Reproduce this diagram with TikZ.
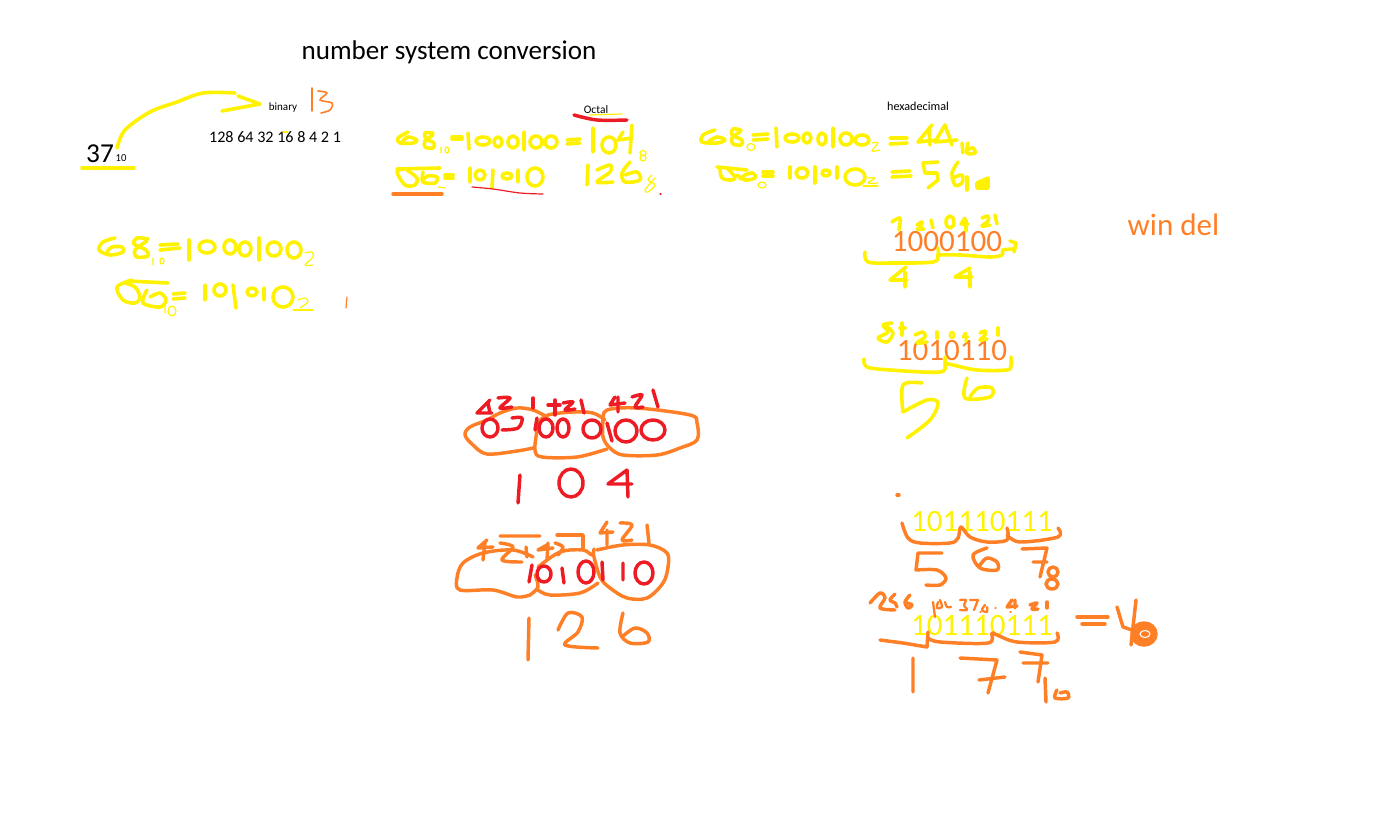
\documentclass[tikz,border=0pt]{standalone}
\usepackage{fontspec}
\setmainfont{Carlito}
\definecolor{penyellow}{RGB}{255,242,0}
\definecolor{penorange}{RGB}{255,127,39}
\definecolor{penred}{RGB}{237,28,36}
\tikzset{
  yellowpen/.style={penyellow,line width=2.7pt,line cap=round,line join=round},
  yellowthin/.style={penyellow,line width=0.9pt,line cap=round,line join=round},
  orangepen/.style={penorange,line width=2.6pt,line cap=round,line join=round},
  orangethin/.style={penorange,line width=1.7pt,line cap=round,line join=round},
  redpen/.style={penred,line width=2.6pt,line cap=round,line join=round},
  redthin/.style={penred,line width=0.9pt,line cap=round,line join=round},
  typed/.style={inner sep=0pt,text=black},
  bigdigits/.style={inner sep=0pt,font=\fontsize{23.3pt}{24pt}\selectfont},
}
\newcommand{\hand}[2]{\draw[#1] plot[smooth,tension=0.55] coordinates {#2};}
\begin{document}
\begin{tikzpicture}[x=0.75pt,y=0.75pt,yscale=-1,xscale=1]
\useasboundingbox (0,0) rectangle (1382,816);
% Text Node
\node[typed,font=\fontsize{20.3pt}{22pt}\selectfont] (title) at (449,52) {number system conversion};
\node[typed,font=\fontsize{20.5pt}{22pt}\selectfont] (base) at (100,154) {37};
\node[typed,font=\fontsize{8pt}{9pt}\selectfont] (baseten) at (121,158) {10};
\node[typed,font=\fontsize{8.3pt}{9pt}\selectfont] (binary) at (283,108) {binary};
\node[typed,font=\fontsize{12.1pt}{13pt}\selectfont] (weights) at (275,137) {128 64 32 16 8 4 2 1};
\node[typed,font=\fontsize{8.6pt}{9pt}\selectfont] (octal) at (596,110) {Octal};
\node[typed,font=\fontsize{9.1pt}{10pt}\selectfont] (hexa) at (918,106) {hexadecimal};
\node[bigdigits,text=penorange] (windel) at (1173.5,225) {win del};
\node[bigdigits,text=penorange] (sixtyeight) at (947,242) {1000100};
\node[bigdigits,text=penorange] (eightysix) at (952,351) {1010110};
\node[bigdigits,text=penyellow] (nineoct) at (982,522) {101110111};
\node[bigdigits,text=penyellow] (ninehex) at (982,626) {101110111};
%Arrow to binary
\hand{yellowpen}{(117,148) (125,130) (150,112) (177,102) (203,93) (235,93)}
\draw[yellowpen] (238,96) -- (260,104) -- (222,111);
\draw[yellowpen] (82,168) -- (134,168);
\draw[yellowthin] (283,132) -- (288,132);
\draw[orangethin,line width=1.2pt] (312,88) -- (312,111);
\hand{orangethin,line width=1.2pt}{(318,91) (327,93) (320,100) (332,103) (330,110) (321,113)}
%Left block, first line
\hand{yellowpen}{(115,238) (103,242) (99,250) (110,255) (123,252) (122,247) (112,247) (107,252)}
\hand{yellowpen}{(148,239) (137,238) (134,244) (146,250) (148,256) (137,257) (135,250) (147,241)}
\draw[yellowpen] (160,245) -- (178,244) (160,250) -- (180,248);
\draw[yellowpen] (189,240) -- (189,260) (259,238) -- (259,260);
\draw[yellowpen] (207,247) ellipse [x radius=8,y radius=6] (230,247) ellipse [x radius=6,y radius=7] (245,249) ellipse [x radius=6,y radius=7] (274,249) ellipse [x radius=7,y radius=7] (294,250) ellipse [x radius=7,y radius=8];
\draw[yellowthin] (153,258) -- (153,265) (162,261) ellipse [x radius=2,y radius=3];
\hand{yellowthin}{(305,253) (312,252) (313,257) (305,265) (313,265)}
%Left block, second line
\draw[yellowpen] (128,281) -- (168,283);
\hand{yellowpen}{(132,280) (117,287) (123,300) (135,303) (140,297) (135,287) (125,283)}
\hand{yellowpen}{(147,290) (143,303) (160,307) (166,300) (160,293) (150,297)}
\draw[yellowthin] (165,305) -- (165,313) (172,311) ellipse [x radius=4,y radius=5];
\draw[yellowpen] (173,294) -- (185,293) (173,299) -- (185,298);
\draw[yellowpen] (205,285) -- (205,300) (233,285) -- (236,308) (264,288) -- (264,300);
\draw[yellowpen] (220,290) ellipse [x radius=6,y radius=6] (252,292) ellipse [x radius=5,y radius=4] (283,297) ellipse [x radius=10,y radius=10];
\hand{yellowthin}{(298,300) (305,298) (308,302) (300,308)}
\draw[yellowthin] (293,310) -- (313,310);
\draw[orangethin,line width=0.9pt] (347,297) -- (346,308);
%Octal heading
\draw[yellowthin] (590,115) -- (622,114);
\hand{redpen}{(574,115) (597,120) (627,120)}
%Octal block, first line
\hand{yellowpen}{(408,132) (398,138) (400,143) (413,143) (417,140) (408,137) (402,142)}
\hand{yellowpen}{(433,133) (425,133) (426,139) (434,143) (433,148) (425,147) (425,141) (433,135)}
\draw[yellowthin] (441,147) -- (441,153) (447,150) ellipse [x radius=2,y radius=3];
\draw[yellowpen] (452,137) -- (462,137) (452,139) -- (462,139);
\draw[yellowpen] (468,133) -- (469,149) (524,132) -- (524,150) (593,128) -- (593,152);
\draw[yellowpen] (483,141) ellipse [x radius=7,y radius=4] (498,142) ellipse [x radius=4,y radius=5] (513,142) ellipse [x radius=5,y radius=6] (536,142) ellipse [x radius=6,y radius=6] (551,142) ellipse [x radius=6,y radius=6] (609,145) ellipse [x radius=7,y radius=8];
\draw[yellowpen] (567,140) -- (580,139) (567,144) -- (580,143);
\draw[yellowpen] (623,132) -- (618,140) -- (632,138) (632,125) -- (630,153);
\draw[yellowthin] (643,153) ellipse [x radius=3,y radius=2.5] (643,158) ellipse [x radius=3,y radius=3];
%Octal block, second line
\draw[yellowpen] (397,169) -- (440,168);
\hand{yellowpen}{(403,169) (397,172) (405,185) (415,185) (417,178) (407,170)}
\hand{yellowpen}{(423,172) (423,182) (435,183) (437,177) (428,176) (423,180)}
\draw[yellowthin] (438,187) -- (445,188);
\draw[yellowpen] (445,175) -- (453,175) (445,178) -- (453,178);
\draw[yellowpen] (470,168) -- (470,182) (493,170) -- (492,188) (518,170) -- (518,182);
\draw[yellowpen] (480,175) ellipse [x radius=5,y radius=5] (507,176) ellipse [x radius=5,y radius=3] (535,177) ellipse [x radius=8,y radius=9];
\draw[orangepen] (393,194) -- (442,194);
\hand{redthin}{(472,187) (493,189) (520,193) (543,194)}
\draw[yellowpen] (588,165) -- (587,185);
\hand{yellowpen}{(597,170) (610,165) (610,172) (597,182) (613,182)}
\hand{yellowpen}{(630,162) (622,173) (625,182) (640,180) (637,172) (625,175)}
\hand{yellowthin}{(652,175) (648,180) (655,185) (648,192) (645,190) (655,178)}
\draw[redthin] (660,194) -- (661,194);
%Hexadecimal block, first line
\hand{yellowpen}{(715,130) (703,135) (702,142) (717,143) (725,140) (717,137) (708,142)}
\hand{yellowpen}{(741,130) (733,129) (732,135) (742,140) (741,145) (733,144) (732,138) (741,131)}
\draw[yellowthin] (751,147) ellipse [x radius=4,y radius=3.5];
\draw[yellowpen] (753,135) -- (768,134) (753,140) -- (768,139);
\draw[yellowpen] (776,128) -- (777,147) (833,128) -- (833,147);
\draw[yellowpen] (792,138) ellipse [x radius=7,y radius=4] (807,138) ellipse [x radius=4,y radius=5] (822,139) ellipse [x radius=4,y radius=6] (846,139) ellipse [x radius=6,y radius=6] (862,140) ellipse [x radius=7,y radius=5];
\hand{yellowthin}{(872,143) (878,143) (872,151) (880,150)}
\draw[yellowpen] (890,138) -- (907,138) (890,144) -- (907,143);
\draw[yellowpen] (932,125) -- (918,142) -- (937,140) (929,130) -- (930,145);
\draw[yellowpen] (945,125) -- (935,142) -- (957,140) (945,125) -- (952,145);
\draw[yellowpen] (962,143) -- (963,153);
\hand{yellowpen}{(968,143) (967,153) (975,153) (973,148) (967,150)}
%Hexadecimal block, second line
\draw[yellowpen] (717,167) -- (747,170);
\hand{yellowpen}{(720,168) (722,178) (732,180) (735,177) (727,168)}
\hand{yellowpen}{(737,175) (745,180) (755,178) (753,173) (745,175) (740,179)}
\draw[yellowthin] (762,185) ellipse [x radius=4,y radius=3];
\draw[yellowpen] (763,172) -- (773,172) (763,176) -- (773,176);
\draw[yellowpen] (790,167) -- (790,178) (815,167) -- (815,183) (837,167) -- (837,178);
\draw[yellowpen] (802,173) ellipse [x radius=6,y radius=5] (826,173) ellipse [x radius=4,y radius=3] (855,177) ellipse [x radius=10,y radius=8];
\draw[yellowthin] (863,186) -- (878,186);
\hand{yellowthin}{(868,178) (875,178) (868,183) (878,183)}
\draw[yellowpen] (892,172) -- (910,171) (892,177) -- (911,176);
\draw[yellowpen] (938,162) -- (923,163) -- (925,173) -- (937,173) -- (938,180) -- (928,188);
\hand{yellowpen}{(958,162) (952,173) (955,185) (962,183) (962,175) (953,178)}
\draw[yellowpen] (967,177) -- (967,190);
\draw[yellowpen,fill=penyellow] (977,183) -- (988,178) -- (988,188) -- (977,188) -- cycle;
%Grouping of 1000100
\hand{yellowpen}{(892,222) (900,218) (899,230)}
\hand{yellowpen}{(917,225) (922,222) (920,228) (917,229) (924,229)}
\draw[yellowpen] (931,220) -- (933,228) (965,218) -- (961,224) -- (968,224) (966,220) -- (966,231) (995,215) -- (997,224);
\draw[yellowpen] (950,222) ellipse [x radius=4,y radius=6];
\hand{yellowpen}{(982,218) (988,216) (988,221) (982,226) (990,225)}
\hand{yellowpen}{(865,252) (868,262) (893,263) (933,262) (938,255) (938,248)}
\hand{yellowpen}{(938,255) (960,255) (990,257) (1002,255) (1003,250) (1015,249)}
\draw[yellowpen] (1010,241) -- (1016,243) -- (1014,252);
\draw[yellowpen] (906,267) -- (890,280) -- (907,280) (905,272) -- (905,287);
\draw[yellowpen] (970,268) -- (955,277) -- (972,277) (970,272) -- (970,287);
%Grouping of 1010110
\hand{yellowpen}{(892,323) (883,325) (888,332) (878,338) (887,342) (893,333) (885,325)}
\draw[yellowpen] (900,328) -- (905,328) (902,323) -- (902,335);
\hand{yellowpen}{(915,335) (923,332) (925,337) (917,343) (927,342)}
\draw[yellowpen] (937,332) -- (937,338) (998,328) -- (998,335);
\draw[yellowpen,line width=2pt] (952,335) ellipse [x radius=2,y radius=3];
\draw[yellowpen,line width=2pt] (965,333) -- (963,337) -- (968,337) (966,333) -- (966,342);
\hand{yellowpen}{(980,333) (985,331) (985,335) (980,340) (987,339)}
\hand{yellowpen}{(864,359) (867,367) (890,370) (940,372) (945,363) (945,357)}
\hand{yellowpen}{(945,363) (953,365) (977,370) (1007,370) (1011,365) (1011,357)}
\hand{yellowpen}{(922,383) (903,385) (903,412)}
\hand{yellowpen}{(903,412) (927,400) (938,403) (930,420) (907,438)}
\hand{yellowpen}{(967,378) (965,398) (990,397) (992,388) (978,388) (970,397)}
%Red octal groups
\hand{orangepen}{(533,448) (517,451) (487,454) (473,445) (465,435) (470,427) (487,420) (500,413) (517,408) (533,410) (547,417)}
\hand{orangepen}{(607,449) (577,457) (542,457) (535,450) (537,430) (538,423) (548,415) (573,412) (593,413) (605,420)}
\hand{orangepen}{(603,420) (607,410) (637,408) (690,415) (697,423) (697,440) (680,448) (657,455) (623,455) (610,448) (603,437) (603,420)}
\draw[redpen] (490,428) ellipse [x radius=8,y radius=9] (546,428) ellipse [x radius=7,y radius=9] (563,428) ellipse [x radius=6,y radius=9] (592,429) ellipse [x radius=9,y radius=9] (626,431) ellipse [x radius=11,y radius=11] (653,430) ellipse [x radius=12,y radius=10];
\hand{redpen}{(502,430) (518,428) (522,418) (512,418)}
\draw[redpen] (537,418) -- (535,430) (607,423) -- (612,441);
\draw[redpen] (490,400) -- (477,413) -- (492,413) (488,403) -- (490,413);
\hand{redpen}{(498,398) (510,398) (500,408) (512,407)}
\draw[redpen] (533,398) -- (533,408) (548,405) -- (560,405) (555,400) -- (555,415);
\hand{redpen}{(563,403) (573,402) (565,410) (575,409)}
\draw[redpen] (581,400) -- (584,413) (615,397) -- (610,405) -- (625,403) (618,397) -- (618,412);
\hand{redpen}{(632,397) (642,395) (635,407) (643,407)}
\draw[redpen] (653,390) -- (658,407);
\draw[redpen] (520,475) -- (518,503) (571,483) ellipse [x radius=12,y radius=14];
\draw[redpen] (627,470) -- (608,484) -- (632,484) (627,470) -- (628,497);
%Orange octal groups
\hand{orangepen}{(530,595) (517,597) (493,590) (460,590) (457,578) (463,563) (483,553) (513,550) (533,557)}
\hand{orangepen}{(530,595) (538,587) (535,575)}
\hand{orangepen}{(538,590) (550,595) (580,593) (598,583)}
\hand{orangepen}{(538,567) (560,552) (583,550) (592,555) (594,549)}
\hand{orangepen}{(597,550) (623,545) (650,545) (667,553) (668,567) (663,583) (647,598) (627,598) (610,588) (600,577) (593,553)}
\draw[redpen] (532,565) -- (529,582) (562,568) -- (564,583) (602,562) -- (603,580) (623,563) -- (623,580);
\draw[redpen] (544,574) ellipse [x radius=7,y radius=8] (586,572) ellipse [x radius=8,y radius=11] (644,573) ellipse [x radius=9,y radius=11];
\draw[orangepen] (487,540) -- (478,548) -- (493,547) (485,542) -- (483,560) (500,536) -- (540,536);
\hand{orangepen}{(500,543) (513,547) (502,560) (522,562)}
\draw[orangepen] (526,547) -- (527,557) (547,545) -- (538,550) -- (553,548) (548,543) -- (547,560);
\hand{orangepen}{(555,543) (563,547) (558,555)}
\draw[orangepen] (557,535) -- (583,535) -- (583,548);
\draw[orangepen] (607,522) -- (600,533) -- (613,532) (607,530) -- (607,545);
\hand{orangepen}{(620,523) (632,525) (622,540) (632,540)}
\draw[orangepen] (647,525) -- (649,543) (529,618) -- (528,660);
\hand{orangepen}{(558,630) (568,613) (582,617) (578,632) (565,645) (598,648)}
\hand{orangepen}{(623,613) (620,633) (630,643) (648,642) (647,633) (635,628) (622,637)}
%Grouping of 101110111 in threes
\draw[orangepen] (897,495) -- (899,495);
\hand{orangepen}{(902,523) (908,538) (920,543) (950,543) (958,538) (961,527) (970,537) (987,542) (1007,540) (1007,528)}
\hand{orangepen}{(1007,535) (1020,542) (1058,537) (1058,528)}
\draw[orangepen] (942,553) -- (918,553) -- (916,570);
\hand{orangepen}{(916,570) (937,570) (946,578) (940,585) (926,585)}
\hand{orangepen}{(987,548) (973,555) (980,568) (997,570) (997,562) (987,558) (980,565)}
\draw[orangepen] (1022,549) -- (1047,548) -- (1040,577) (1033,562) -- (1047,562);
\draw[orangepen] (1053,572) ellipse [x radius=5,y radius=5] (1052,584) ellipse [x radius=6,y radius=5];
%Grouping of 101110111 in fours
\hand{orangepen}{(870,603) (880,593) (885,598) (880,608) (895,610)}
\hand{orangepen}{(895,594) (890,600) (895,603) (897,607)}
\hand{orangepen}{(910,595) (905,602) (908,608) (912,605) (907,603)}
\draw[orangethin] (933,602) -- (935,617);
\hand{orangethin}{(938,602) (937,608) (942,607) (940,600)}
\hand{orangethin}{(945,602) (947,607) (951,607)}
\hand{orangethin}{(960,600) (966,600) (964,605) (967,610) (960,610)}
\draw[orangethin] (970,600) -- (978,600) -- (974,610);
\hand{orangethin}{(985,605) (982,610) (987,612) (987,607)}
\draw[orangethin,line width=0.9pt] (980,612) -- (981,612) (995,608) -- (996,608) (1010,612) -- (1011,612);
\draw[orangepen] (1012,600) -- (1007,607) -- (1017,606) (1015,600) -- (1015,608);
\hand{orangepen}{(1030,605) (1037,603) (1032,609) (1038,609)}
\draw[orangepen] (1047,602) -- (1047,608);
\draw[orangepen] (880,640) -- (903,643) -- (927,647) -- (928,632);
\hand{orangepen}{(928,638) (940,642) (988,643) (992,633) (997,635) (1017,642) (1055,642) (1057,633)}
\draw[orangepen] (1077,617) -- (1108,617) (1082,624) -- (1105,624);
\draw[orangepen] (1117,607) -- (1123,627) -- (1132,630) (1136,600) -- (1131,645);
\draw[orangepen,fill=penorange] (1144,634) ellipse [x radius=12,y radius=11];
\draw[white,line width=0.8pt] (1145,634) ellipse [x radius=5,y radius=3.5];
\draw[orangepen] (913,658) -- (913,692) (960,658) -- (997,660) -- (988,693) (979,680) -- (1005,677);
\draw[orangepen] (1020,652) -- (1042,655) -- (1038,682) (1023,663) -- (1048,663) (1045,678) -- (1046,702);
\hand{orangepen}{(1057,690) (1055,698) (1068,698) (1067,692) (1060,693)}
\end{tikzpicture}
\end{document}
